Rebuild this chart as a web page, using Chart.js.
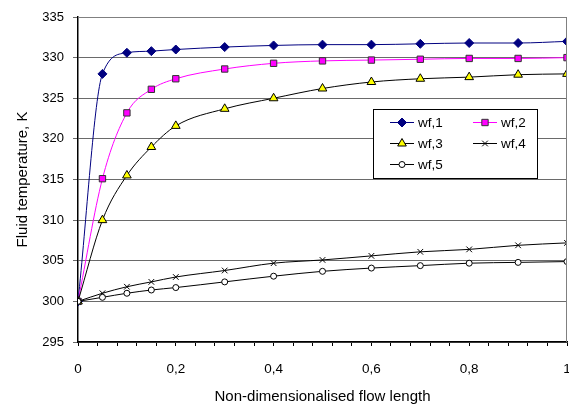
<!DOCTYPE html>
<html>
<head>
<meta charset="utf-8">
<script src="https://cdn.jsdelivr.net/npm/chart.js@4.4.0/dist/chart.umd.min.js"></script>
<style>
  html, body { margin: 0; padding: 0; background: #fff; }
  #wrap { width: 569px; height: 408px; overflow: hidden; }
</style>
</head>
<body>
<div id="wrap"><canvas id="tempChart" width="573" height="408"></canvas></div>
<script>
// x positions along the flow length
const flowLength = [0, 0.05, 0.1, 0.15, 0.2, 0.3, 0.4, 0.5, 0.6, 0.7, 0.8, 0.9, 1];

// fluid temperatures, K
const wf1 = [300, 328, 330.6, 330.8, 331, 331.3, 331.5, 331.6, 331.6, 331.7, 331.8, 331.8, 332];
const wf2 = [300, 315.1, 323.2, 326.1, 327.4, 328.6, 329.3, 329.6, 329.7, 329.8, 329.9, 329.9, 330];
const wf3 = [300, 310, 315.5, 319, 321.6, 323.7, 325, 326.2, 327, 327.4, 327.6, 327.9, 328];
const wf4 = [300, 301, 301.8, 302.4, 303, 303.8, 304.7, 305.1, 305.6, 306.1, 306.4, 306.9, 307.2];
const wf5 = [300, 300.5, 301, 301.4, 301.7, 302.4, 303.1, 303.7, 304.1, 304.4, 304.7, 304.8, 304.9];

const seriesNames = ["wf,1", "wf,2", "wf,3", "wf,4", "wf,5"];
const yTicks = [295, 300, 305, 310, 315, 320, 325, 330, 335];

const FONT = "'Liberation Sans', Arial, sans-serif";

function toPoints(values) {
    return flowLength.map((x, i) => ({ x: x, y: values[i] }));
}

function makeSet(label, values, style) {
    return Object.assign({
        label: label,
        data: toPoints(values),
        borderWidth: 1,
        cubicInterpolationMode: "monotone",
        pointBorderWidth: 1,
        pointHoverRadius: 4,
    }, style);
}

const datasets = [
    makeSet(seriesNames[4], wf5, { borderColor: "#000", pointStyle: "circle", pointRadius: 3, pointBackgroundColor: "#fff", pointBorderColor: "#000" }),
    makeSet(seriesNames[3], wf4, { borderColor: "#000", pointStyle: "crossRot", pointRadius: 4, pointBorderColor: "#000" }),
    makeSet(seriesNames[2], wf3, { borderColor: "#000", pointStyle: "triangle", pointRadius: 5, pointBackgroundColor: "#ffff00", pointBorderColor: "#000" }),
    makeSet(seriesNames[1], wf2, { borderColor: "#ff00ff", pointStyle: "rect", pointRadius: 4.5, pointBackgroundColor: "#ff00ff", pointBorderColor: "#333" }),
    makeSet(seriesNames[0], wf1, { borderColor: "#000080", pointStyle: "rectRot", pointRadius: 4.5, pointBackgroundColor: "#000080", pointBorderColor: "#000080" }),
];

// frame round the plot area
const frame = {
    id: "frame",
    afterDraw(chart) {
        const a = chart.chartArea, ctx = chart.ctx;
        ctx.save();
        ctx.strokeStyle = "#808080";
        ctx.lineWidth = 1;
        ctx.beginPath();
        ctx.moveTo(a.left, a.top + 0.5);
        ctx.lineTo(a.right - 0.5, a.top + 0.5);
        ctx.lineTo(a.right - 0.5, a.bottom);
        ctx.stroke();
        ctx.restore();
    }
};

// legend box inside the plot
const boxLegend = {
    id: "boxLegend",
    afterDraw(chart) {
        const ctx = chart.ctx;
        const bx = 373, by = 109, bw = 164, bh = 69;
        ctx.save();
        ctx.fillStyle = "#fff";
        ctx.fillRect(bx, by, bw, bh);
        ctx.strokeStyle = "#000";
        ctx.lineWidth = 1;
        ctx.strokeRect(bx + 0.5, by + 0.5, bw, bh);
        ctx.font = "13.5px " + FONT;
        ctx.textBaseline = "middle";
        const order = [4, 3, 2, 1, 0];
        order.forEach((di, k) => {
            const ds = chart.data.datasets[di];
            const col = k % 2, row = Math.floor(k / 2);
            const x0 = bx + 17 + col * 83;
            const y0 = by + 13 + row * 21;
            ctx.strokeStyle = ds.borderColor;
            ctx.beginPath();
            ctx.moveTo(x0, y0 + 0.5);
            ctx.lineTo(x0 + 24, y0 + 0.5);
            ctx.stroke();
            ctx.fillStyle = ds.pointBackgroundColor || "#000";
            ctx.strokeStyle = ds.pointBorderColor;
            Chart.helpers.drawPoint(ctx, {
                pointStyle: ds.pointStyle,
                radius: ds.pointRadius,
                borderWidth: 1,
                rotation: 0
            }, x0 + 12, y0 + 0.5);
            ctx.fillStyle = "#000";
            ctx.textAlign = "left";
            ctx.fillText(ds.label, x0 + 28, y0 + 1);
        });
        ctx.restore();
    }
};

new Chart(document.getElementById("tempChart").getContext("2d"), {
    type: "line",
    data: { datasets: datasets },
    plugins: [frame, boxLegend],
    options: {
        responsive: false,
        animation: false,
        layout: { padding: { left: 14, right: 0, top: 17, bottom: 2 } },
        plugins: {
            legend: { display: false },
            tooltip: { enabled: false },
        },
        scales: {
            x: {
                type: "linear",
                min: 0,
                max: 1,
                afterBuildTicks(scale) {
                    const t = [];
                    for (let i = 0; i <= 25; i++) t.push({ value: i * 0.04 });
                    scale.ticks = t;
                },
                afterFit(scale) {
                    scale.paddingRight = 0;
                    scale.paddingLeft = 0;
                    scale.height = 64;
                },
                ticks: {
                    autoSkip: false,
                    maxRotation: 0,
                    color: "#000",
                    padding: 15,
                    font: { family: FONT, size: 13.5 },
                    callback(v) {
                        const r = v * 5;
                        if (Math.abs(r - Math.round(r)) > 1e-6) return "";
                        const s = (Math.round(r) / 5).toString();
                        return s.replace(".", ",");
                    },
                },
                grid: {
                    drawOnChartArea: false,
                    drawTicks: true,
                    tickLength: 4,
                    color: "#000",
                },
                border: { color: "#000", width: 1.5 },
                title: {
                    display: true,
                    text: "Non-dimensionalised flow length",
                    color: "#000",
                    font: { family: FONT, size: 15 },
                    padding: { top: 0, bottom: 0 },
                },
            },
            y: {
                min: 295,
                max: 335,
                afterBuildTicks(scale) {
                    scale.ticks = yTicks.map(v => ({ value: v }));
                },
                afterFit(scale) { scale.width = 64; },
                ticks: {
                    color: "#000",
                    padding: 9,
                    font: { family: FONT, size: 13 },
                },
                grid: {
                    color: "#6a6a6a",
                    lineWidth: 1,
                    tickLength: 5,
                },
                border: { color: "#000", width: 1.5 },
                title: {
                    display: true,
                    text: "Fluid temperature, K",
                    color: "#000",
                    font: { family: FONT, size: 15 },
                    padding: { top: 0, bottom: 0 },
                },
            },
        },
    },
});
</script>
</body>
</html>
